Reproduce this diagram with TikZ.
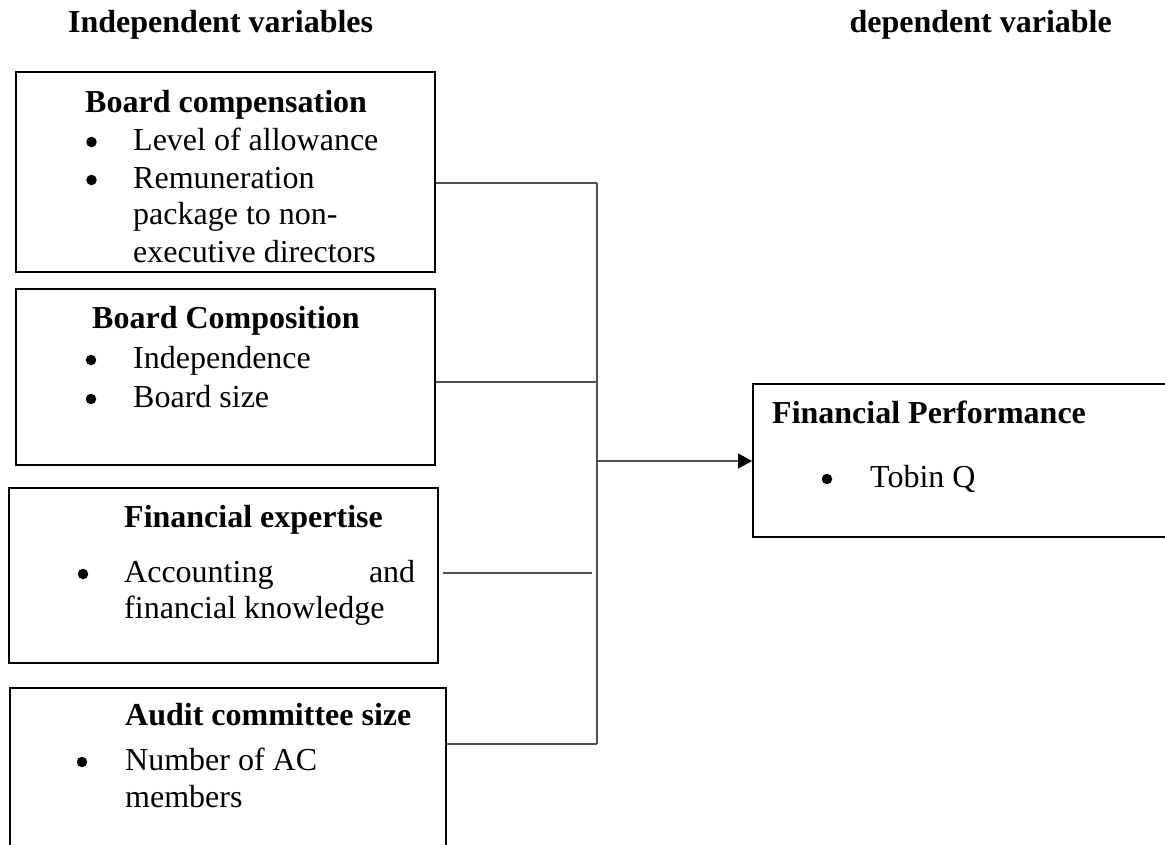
\documentclass[tikz,border=0pt]{standalone}
\usepackage{fontspec}
\setmainfont{Liberation Serif}
\usetikzlibrary{arrows.meta}
\definecolor{conn}{HTML}{505050}
\tikzset{
  box/.style={draw=black, line width=1.6pt, rectangle, inner sep=0pt, anchor=north west},
  txt/.style={anchor=base west, inner sep=0pt, font=\fontsize{32}{38}\selectfont},
  head/.style={txt, font=\fontsize{32}{38}\selectfont\bfseries},
  bul/.style={circle, fill=black, inner sep=0pt, minimum size=10.5pt},
  wire/.style={draw=conn, line width=1.3pt},
  arr/.style={wire, -{Triangle[length=14pt,width=15pt,fill=black,color=black]}}
}
\begin{document}
\begin{tikzpicture}[x=1pt,y=-1pt]
\useasboundingbox (0,0) rectangle (1165,844);
\clip (0,0) rectangle (1165,844);
% headers
\node[head] (hi) at (68,32) {Independent variables};
\node[head, anchor=base east] (hd) at (1112,32) {dependent variable};
% boxes
\node[box, minimum width=419pt, minimum height=200pt] (b1) at (15,71) {};
\node[box, minimum width=419pt, minimum height=176pt] (b2) at (15,288) {};
\node[box, minimum width=429pt, minimum height=175pt] (b3) at (8,487) {};
\node[box, minimum width=436pt, minimum height=200pt] (b4) at (9,687) {};
\node[box, minimum width=450pt, minimum height=153pt] (fp) at (752,383) {};
% box 1 text
\node[head] (t1h) at (85,112) {Board compensation};
\node[bul] (t1b1) at (91.5,142) {};
\node[txt] (t1a) at (133,150) {Level of allowance};
\node[bul] (t1b2) at (91.5,180) {};
\node[txt] (t1b) at (133,188) {Remuneration};
\node[txt] (t1c) at (133,224) {package to non-};
\begin{scope}
\clip (15,71) rectangle (434,262);
\node[txt] (t1d) at (133,262) {executive directors};
\end{scope}
% box 2 text
\node[head] (t2h) at (92,328) {Board Composition};
\node[bul] (t2b1) at (91,360) {};
\node[txt] (t2a) at (133,368) {Independence};
\node[bul] (t2b2) at (91,399) {};
\node[txt] (t2b) at (133,407) {Board size};
% box 3 text
\node[head] (t3h) at (124,527) {Financial expertise};
\node[bul] (t3b1) at (83,574) {};
\node[txt] (t3a) at (124,582) {\makebox[291pt][s]{Accounting and}};
\node[txt] (t3b) at (124,618) {financial knowledge};
% box 4 text
\node[head] (t4h) at (125,725) {Audit committee size};
\node[bul] (t4b1) at (82,762) {};
\node[txt] (t4a) at (125,770) {Number of AC};
\node[txt] (t4b) at (125,807) {members};
% fp text
\node[head] (t5h) at (772,423) {Financial Performance};
\node[bul] (t5b1) at (827,479) {};
\node[txt] (t5a) at (870,487) {Tobin Q};
% connectors
\coordinate (j1) at (597,183);
\coordinate (j2) at (597,382);
\coordinate (j3) at (592,573);
\coordinate (j4) at (597,744);
\coordinate (ja) at (597,461);
\coordinate (s3) at (443,573);
\path[wire] (b1.east |- j1) -- (j1);
\path[wire] (b2.east |- j2) -- (j2);
\path[wire] (s3) -- (j3);
\path[wire] (b4.east |- j4) -- (j4);
\path[wire] (j1) -- (j4);
\path[arr] (ja) -- (fp.west |- ja);
\end{tikzpicture}
\end{document}
